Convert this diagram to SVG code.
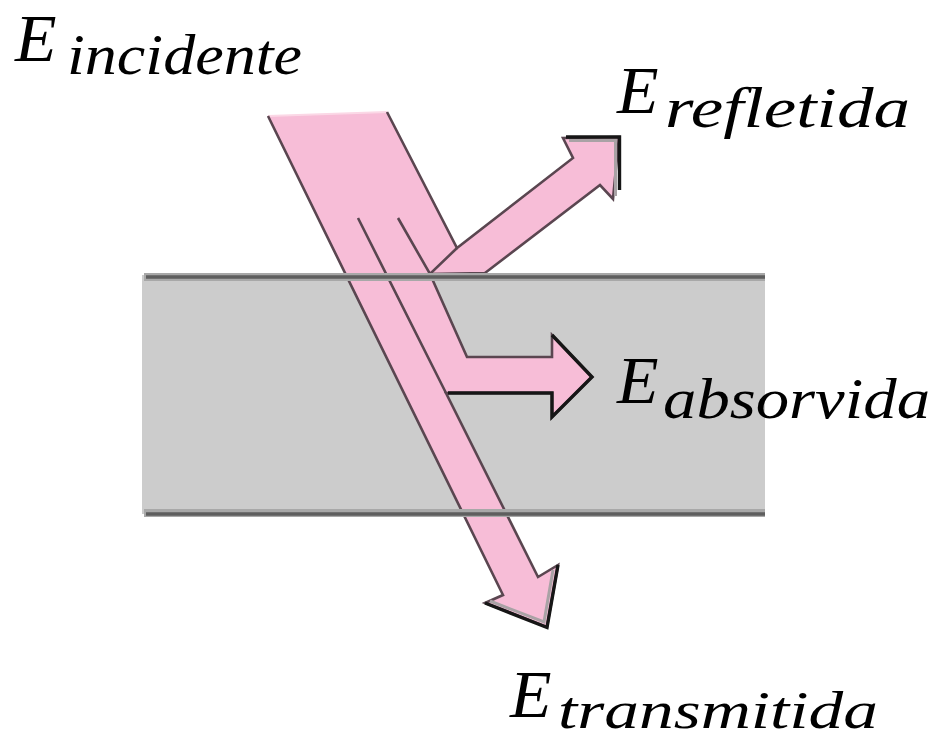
<svg xmlns="http://www.w3.org/2000/svg" width="936" height="741" viewBox="0 0 936 741">
<style>
.lbl{font-family:"Liberation Serif","DejaVu Serif",serif;font-style:italic;fill:#000}
.big{font-size:68px}
.sub{font-size:56px}
.edge{fill:none;stroke:#5a4650;stroke-width:2.6;stroke-linejoin:miter}
.shadow{fill:none;stroke:#161616;stroke-width:3.4}
.halo{fill:none;stroke:#a9a2a5;stroke-width:3}
.slabline{stroke:#5e5e5e;stroke-width:3.6}
.slabhalo{stroke:#a8a8a8;stroke-width:8}
</style>
<rect width="936" height="741" fill="#ffffff"/>
<g id="slab">
<rect x="142" y="275" width="623" height="239" fill="#cccccc"/>
</g>
<g id="beam">
<path d="M268,116 L387,112 L457,248 L573,158 L563,138 L619,137 L613,199 L600,185 L485,273 L430,274 L467,357 L552,357 L552,335 L592,377 L552,417 L552,393 L446,393 L538,577 L558,565 L547,627 L485,603 L503,595 Z" fill="#f7bdd7"/>
<line x1="268" y1="116" x2="387" y2="112" stroke="#fbd8e6" stroke-width="2"/>
<path class="edge" d="M387,112 L457,248 L573,158 L563,138 L619,137 L613,199 L600,185 L485,273 L430,274 L467,357 L552,357 L552,335 L592,377 L552,417 L552,393 L446,393 L538,577 L558,565 L547,627 L485,603 L503,595 L268,116"/>
<path class="edge" d="M358,218 L446,393 M398,218 L430,274 L457,248"/>
<polyline class="halo" points="569,140.5 615.5,140.5 615.5,196"/>
<polyline class="shadow" points="566,137 619.5,137 619.5,190"/>
<polyline class="shadow" points="552,335 592,377 552,417 552,393 448,393"/>
<polyline class="halo" points="490,601 544,622 553,570"/>
<polyline class="shadow" points="485,603 547,627.5 558,565"/>
</g>
<g id="slab-lines">
<line class="slabhalo" x1="144" y1="277" x2="765" y2="277"/>
<line class="slabline" x1="146" y1="277" x2="765" y2="277"/>
<line class="slabhalo" x1="144" y1="513" x2="765" y2="513"/>
<line class="slabline" x1="146" y1="514" x2="765" y2="514"/>
</g>
<g id="label-incidente">
<text class="lbl big" x="15" y="61">E</text>
<text class="lbl sub" x="67" y="74" textLength="235" lengthAdjust="spacingAndGlyphs">incidente</text>
</g>
<g id="label-refletida">
<text class="lbl big" x="617" y="113">E</text>
<text class="lbl sub" x="665" y="127" textLength="245" lengthAdjust="spacingAndGlyphs">refletida</text>
</g>
<g id="label-absorvida">
<text class="lbl big" x="617" y="403">E</text>
<text class="lbl sub" x="663" y="418" textLength="267" lengthAdjust="spacingAndGlyphs">absorvida</text>
</g>
<g id="label-transmitida">
<text class="lbl big" x="510" y="717">E</text>
<text class="lbl" style="font-size:52px" x="558" y="728" textLength="320" lengthAdjust="spacingAndGlyphs">transmitida</text>
</g>
</svg>
